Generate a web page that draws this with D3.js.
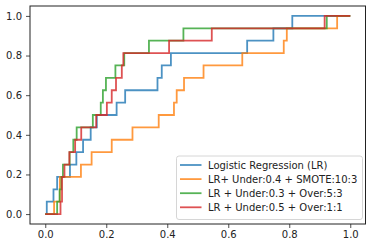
<!DOCTYPE html>
<html>
<head>
<meta charset="utf-8">
<script src="https://cdn.jsdelivr.net/npm/d3@7"></script>
<style>
  body { margin: 0; background: #fff; }
  svg { display: block; }
</style>
</head>
<body>
<div id="chart"></div>
<script>
// ROC curves (16 positives, so tpr moves in 1/16 steps)
const seriesNames = [
  "Logistic Regression (LR)",
  "LR+ Under:0.4 + SMOTE:10:3",
  "LR + Under:0.3 + Over:5:3",
  "LR + Under:0.5 + Over:1:1"
]
const colors = ["#1f77b4", "#ff7f0e", "#2ca02c", "#d62728"]

const lrFpr = [0, 0.005, 0.027, 0.039, 0.081, 0.102, 0.124, 0.149, 0.169, 0.234, 0.262, 0.368, 0.382, 0.412, 0.662, 0.748, 0.810, 1]
const lrTpr = [0, 1, 2, 3, 4, 5, 6, 7, 8, 9, 10, 11, 12, 13, 14, 15, 16, 16]

const smoteFpr = [0, 0.029, 0.048, 0.117, 0.152, 0.218, 0.286, 0.372, 0.422, 0.431, 0.455, 0.519, 0.646, 0.782, 0.792, 0.957, 1]
const smoteTpr = [0, 1, 3, 4, 5, 6, 7, 8, 9, 10, 11, 12, 13, 14, 15, 16, 16]

const over53Fpr = [0, 0.039, 0.047, 0.053, 0.058, 0.080, 0.092, 0.103, 0.156, 0.182, 0.189, 0.199, 0.230, 0.259, 0.340, 0.453, 0.923, 1]
const over53Tpr = [0, 1, 2, 3, 4, 5, 6, 7, 8, 9, 10, 11, 12, 13, 14, 15, 16, 16]

const over11Fpr = [0, 0.050, 0.055, 0.063, 0.079, 0.098, 0.118, 0.167, 0.202, 0.218, 0.232, 0.251, 0.256, 0.406, 0.546, 0.916, 1]
const over11Tpr = [0, 1, 3, 4, 5, 6, 7, 8, 9, 10, 11, 12, 13, 14, 15, 16, 16]

const positives = 16
const xTicks = [0, 0.2, 0.4, 0.6, 0.8, 1.0]
const yTicks = [0, 0.2, 0.4, 0.6, 0.8, 1.0]

const width = 372, height = 248
const margin = { top: 6, right: 6.5, bottom: 24, left: 30 }

const curves = [
  { fpr: lrFpr, tpr: lrTpr },
  { fpr: smoteFpr, tpr: smoteTpr },
  { fpr: over53Fpr, tpr: over53Tpr },
  { fpr: over11Fpr, tpr: over11Tpr }
].map((c, i) => ({
  name: seriesNames[i],
  color: colors[i],
  points: c.fpr.map((f, j) => [f, c.tpr[j] / positives])
}))

const x = d3.scaleLinear()
  .domain([-0.05, 1.05])
  .range([margin.left, width - margin.right])

const y = d3.scaleLinear()
  .domain([-0.05, 1.05])
  .range([height - margin.bottom, margin.top])

const svg = d3.select("#chart").append("svg")
  .attr("width", width)
  .attr("height", height)
  .style("font-family", "'DejaVu Sans', sans-serif")

const fmt = d3.format(".1f")

// axes
const xAxis = svg.append("g")
  .attr("transform", `translate(0,${height - margin.bottom})`)
  .call(d3.axisBottom(x).tickValues(xTicks).tickFormat(fmt).tickSize(4).tickPadding(3))

const yAxis = svg.append("g")
  .attr("transform", `translate(${margin.left},0)`)
  .call(d3.axisLeft(y).tickValues(yTicks).tickFormat(fmt).tickSize(4).tickPadding(4))

for (const ax of [xAxis, yAxis]) {
  ax.select(".domain").remove()
  ax.selectAll(".tick line").attr("stroke", "#222").attr("stroke-width", 0.8)
  ax.selectAll(".tick text")
    .attr("fill", "#222")
    .style("font-size", "10px")
    .style("font-family", "'DejaVu Sans', sans-serif")
}

// roc lines
const line = d3.line()
  .x(d => x(d[0]))
  .y(d => y(d[1]))
  .curve(d3.curveStepAfter)

svg.append("g")
  .attr("id", "curves")
  .selectAll("path")
  .data(curves)
  .enter().append("path")
    .attr("fill", "none")
    .attr("stroke", d => d.color)
    .attr("stroke-opacity", 0.8)
    .attr("stroke-width", 1.8)
    .attr("d", d => line(d.points))

// frame
svg.append("rect")
  .attr("x", margin.left)
  .attr("y", margin.top)
  .attr("width", width - margin.left - margin.right)
  .attr("height", height - margin.top - margin.bottom)
  .attr("fill", "none")
  .attr("stroke", "#222")
  .attr("stroke-width", 1)

// legend
const legend = svg.append("g").attr("transform", "translate(176.5,156)")

legend.append("rect")
  .attr("width", 186)
  .attr("height", 63.5)
  .attr("rx", 2.5)
  .attr("fill", "#fff")
  .attr("fill-opacity", 0.8)
  .attr("stroke", "#ccc")
  .attr("stroke-width", 0.8)

const items = legend.selectAll(".item")
  .data(curves)
  .enter().append("g")
    .attr("transform", (d, i) => `translate(0,${9 + i * 14.1})`)

items.append("line")
  .attr("x1", 3.5)
  .attr("x2", 25)
  .attr("stroke", d => d.color)
  .attr("stroke-opacity", 0.8)
  .attr("stroke-width", 1.8)

items.append("text")
  .attr("x", 31.5)
  .attr("dy", "0.35em")
  .attr("fill", "#222")
  .style("font-size", "10px")
  .text(d => d.name)
</script>
</body>
</html>
